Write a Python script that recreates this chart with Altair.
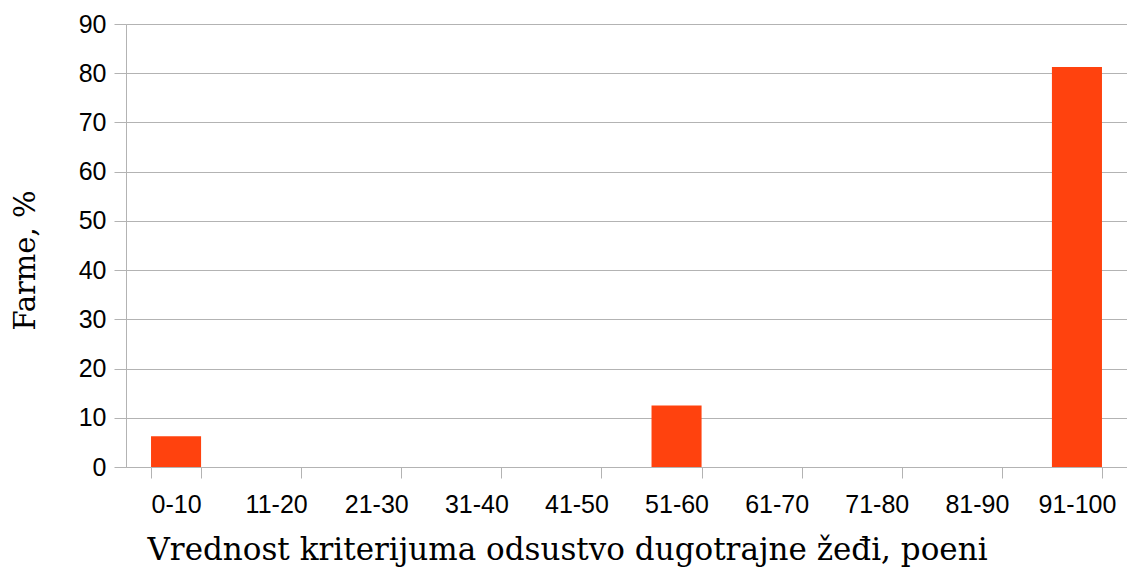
import altair as alt
import pandas as pd

categories = ["0-10", "11-20", "21-30", "31-40", "41-50",
              "51-60", "61-70", "71-80", "81-90", "91-100"]
values = [6.25, 0, 0, 0, 0, 12.5, 0, 0, 0, 81.25]
y_ticks = [0, 10, 20, 30, 40, 50, 60, 70, 80, 90]

df = pd.DataFrame({"cat": categories, "val": values})

grey = "#b3b3b3"

chart = alt.Chart(df).mark_bar(color="#ff420e").encode(
    x=alt.X(
        "cat:N",
        sort=categories,
        scale=alt.Scale(paddingInner=0.5, paddingOuter=0.25),
        axis=alt.Axis(
            title="Vrednost kriterijuma odsustvo dugotrajne žeđi, poeni",
            labelAngle=0,
            tickBand="extent",
            grid=False,
            domainColor=grey,
            tickColor=grey,
            tickSize=11,
            labelPadding=14,
            labelFont="Liberation Sans",
            labelFontSize=25,
            labelColor="#000000",
            titleFont="DejaVu Serif",
            titleFontSize=31,
            titleFontWeight="normal",
            titleColor="#000000",
            titleX=441,
            titleY=92,
            titleAlign="center",
            titleBaseline="alphabetic",
        ),
    ),
    y=alt.Y(
        "val:Q",
        scale=alt.Scale(domain=[0, 90], nice=False),
        axis=alt.Axis(
            title="Farme, %",
            values=y_ticks,
            grid=True,
            gridColor=grey,
            domainColor=grey,
            tickColor=grey,
            tickSize=12,
            labelPadding=8,
            labelFont="Liberation Sans",
            labelFontSize=25,
            labelColor="#000000",
            titleFont="DejaVu Serif",
            titleFontSize=29,
            titleFontWeight="normal",
            titleColor="#000000",
            titleAngle=-90,
            titleX=-92,
            titleY=236,
            titleAlign="center",
            titleBaseline="alphabetic",
        ),
    ),
).properties(
    width=1001,
    height=443,
    autosize=alt.AutoSizeParams(type="none"),
    padding={"left": 118, "top": 16, "right": 0, "bottom": 104},
).configure_view(stroke=None).configure(background="#ffffff")

chart.save("out.html", embed_options={"renderer": "svg", "actions": False})
